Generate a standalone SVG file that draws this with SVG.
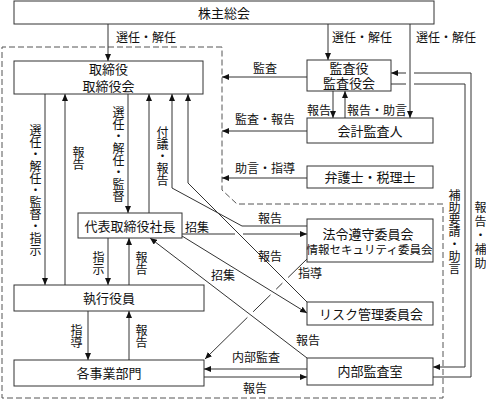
<svg xmlns="http://www.w3.org/2000/svg" width="486" height="400" viewBox="0 0 486 400">
<defs>
<marker id="ah" markerWidth="7" markerHeight="6" refX="7" refY="3" orient="auto" markerUnits="userSpaceOnUse"><path d="M0,0 L7,3 L0,6 Z" fill="#111"/></marker>
<style>
.box{fill:#fff;stroke:#333;stroke-width:1}
.ln{fill:none;stroke:#333;stroke-width:1}
.dash{fill:none;stroke:#555;stroke-width:1;stroke-dasharray:6 3}
text{font-family:"Liberation Serif","Noto Sans CJK JP",serif;fill:#111}
.bt{font-size:13px;text-anchor:middle}
.lb{font-size:12px;text-anchor:middle}
.vt{font-size:12px;text-anchor:start;writing-mode:vertical-rl}
</style>
</defs>
<rect width="486" height="400" fill="#fff"/>
<path class="dash" d="M222,47 H2 V398 H443 V204 H237 L222,190 Z"/>
<g id="connectors">
<path class="ln" d="M108,24 V61" marker-end="url(#ah)"/>
<path class="ln" d="M328,24 V60" marker-end="url(#ah)"/>
<path class="ln" d="M410,24 V118" marker-end="url(#ah)"/>
<path class="ln" d="M307,77 H222" marker-end="url(#ah)"/>
<path class="ln" d="M307,131 H222" marker-end="url(#ah)"/>
<path class="ln" d="M307,178 H222" marker-end="url(#ah)"/>
<path class="ln" d="M333,91 V118" marker-end="url(#ah)"/>
<path class="ln" d="M345,118 V91" marker-end="url(#ah)"/>
<path class="ln" d="M433,377 H471 V73 H414"/>
<path class="ln" d="M406,73 H391" marker-end="url(#ah)"/>
<path class="ln" d="M391,84 H406"/>
<path class="ln" d="M414,84 H465 V367 H433" marker-end="url(#ah)"/>
<path class="ln" d="M45,94 V285" marker-end="url(#ah)"/>
<path class="ln" d="M65,285 V94" marker-end="url(#ah)"/>
<path class="ln" d="M128,94 V213" marker-end="url(#ah)"/>
<path class="ln" d="M149,213 V94" marker-end="url(#ah)"/>
<path class="ln" d="M307,226 H242 L172,188 V94" marker-end="url(#ah)"/>
<path class="ln" d="M307,302 L188,183 V94" marker-end="url(#ah)"/>
<path class="ln" d="M182,234 H235"/>
<path class="ln" d="M243,234 H307" marker-end="url(#ah)"/>
<path class="ln" d="M182,236 L307,313" marker-end="url(#ah)"/>
<path class="ln" d="M307,358 L150,238" marker-end="url(#ah)"/>
<path class="ln" d="M307,259 L288.1,277.5 M282.4,283.1 L276.2,289.2 M270.5,294.8 L253.1,311.8"/>
<path class="ln" d="M247.4,317.4 L205,359" marker-end="url(#ah)"/>
<path class="ln" d="M108,238 V285" marker-end="url(#ah)"/>
<path class="ln" d="M129,285 V238" marker-end="url(#ah)"/>
<path class="ln" d="M88,311 V360" marker-end="url(#ah)"/>
<path class="ln" d="M129,360 V311" marker-end="url(#ah)"/>
<path class="ln" d="M307,369 H204" marker-end="url(#ah)"/>
<path class="ln" d="M204,377 H307" marker-end="url(#ah)"/>
</g>
<g id="labels">
<text class="lb" x="146" y="41.5">選任・解任</text>
<text class="lb" x="362" y="41.5">選任・解任</text>
<text class="lb" x="446" y="41.5">選任・解任</text>
<text class="lb" x="265" y="72.5">監査</text>
<text class="lb" x="265" y="123.5">監査・報告</text>
<text class="lb" x="265" y="172.5">助言・指導</text>
<text class="lb" x="319" y="114.5">報告</text>
<text class="lb" x="377" y="114.5">報告・助言</text>
<text class="lb" x="270" y="222.5">報告</text>
<text class="lb" x="197" y="232">招集</text>
<text class="lb" x="270" y="260.5">報告</text>
<text class="lb" x="223" y="279.5">招集</text>
<text class="lb" x="310" y="277.5">指導</text>
<text class="lb" x="308" y="344.5">報告</text>
<text class="lb" x="256" y="361.5">内部監査</text>
<text class="lb" x="255" y="392.5">報告</text>
<text class="vt" x="34" y="124">選任・解任・監督・指示</text>
<text class="vt" x="77" y="146">報告</text>
<text class="vt" x="117" y="106">選任・解任・監督</text>
<text class="vt" x="161" y="126">付議・報告</text>
<text class="vt" x="97" y="251">指示</text>
<text class="vt" x="140" y="251">報告</text>
<text class="vt" x="75" y="324">指導</text>
<text class="vt" x="140" y="324">報告</text>
<text class="vt" x="453" y="189" style="letter-spacing:0.3px">補助要請・助言</text>
<text class="vt" x="479" y="201" style="letter-spacing:2px">報告・補助</text>
</g>
<g id="shareholders"><rect class="box" x="14" y="1" width="420" height="23"/><text class="bt" x="224" y="17.5">株主総会</text></g>
<g id="board"><rect class="box" x="14" y="61" width="189" height="33"/><text class="bt" x="108.5" y="73.5">取締役</text><text class="bt" x="108.5" y="90.5">取締役会</text></g>
<g id="auditors"><rect class="box" x="307" y="60" width="84" height="31"/><text class="bt" x="349" y="72.5">監査役</text><text class="bt" x="349" y="87.5">監査役会</text></g>
<g id="accounting-auditor"><rect class="box" x="307" y="118" width="126" height="25"/><text class="bt" x="370" y="135.5">会計監査人</text></g>
<g id="lawyers"><rect class="box" x="307" y="166" width="126" height="22"/><text class="bt" x="370" y="181.5">弁護士・税理士</text></g>
<g id="compliance"><rect class="box" x="307" y="219" width="126" height="43"/><text class="bt" x="368" y="238.5">法令遵守委員会</text><text class="bt" x="369.5" y="253.5" style="font-size:11.5px">情報セキュリティ委員会</text></g>
<g id="risk"><rect class="box" x="307" y="302" width="126" height="23"/><text class="bt" x="371" y="318.5">リスク管理委員会</text></g>
<g id="internal-audit"><rect class="box" x="307" y="358" width="126" height="27"/><text class="bt" x="370" y="376">内部監査室</text></g>
<g id="president"><rect class="box" x="78" y="213" width="104" height="25"/><text class="bt" x="130" y="230.5">代表取締役社長</text></g>
<g id="executives"><rect class="box" x="14" y="285" width="190" height="26"/><text class="bt" x="109" y="302.5">執行役員</text></g>
<g id="divisions"><rect class="box" x="14" y="360" width="190" height="26"/><text class="bt" x="109" y="377.5">各事業部門</text></g>
</svg>
